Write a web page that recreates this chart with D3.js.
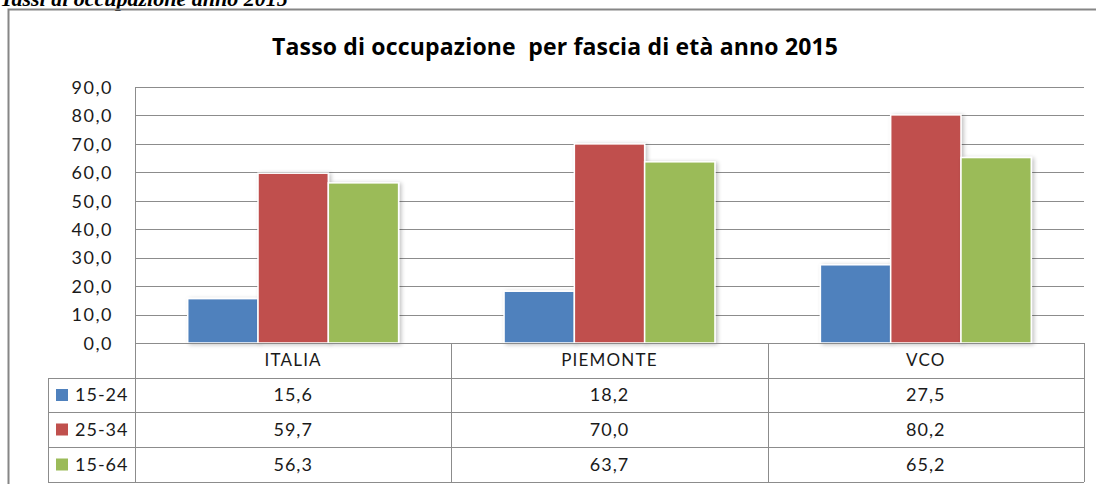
<!DOCTYPE html>
<html>
<head>
<meta charset="utf-8">
<script src="https://cdn.jsdelivr.net/npm/d3@7"></script>
<style>
  html, body { margin: 0; padding: 0; background: #fff; }
  svg { display: block; }
</style>
</head>
<body>
<svg id="chart" width="1096" height="484"></svg>
<script>
const categories = ["ITALIA", "PIEMONTE", "VCO"];
const seriesNames = ["15-24", "25-34", "15-64"];
const values1524 = [15.6, 18.2, 27.5];
const values2534 = [59.7, 70.0, 80.2];
const values1564 = [56.3, 63.7, 65.2];
const yTicks = [0, 10, 20, 30, 40, 50, 60, 70, 80, 90];
const colors = ["#4F81BD", "#C0504D", "#9BBB59"];

const series = [values1524, values2534, values1564].map((v, i) => ({name: seriesNames[i], values: v, color: colors[i]}));

const svg = d3.select("#chart");
const font = "Lato, 'Open Sans', sans-serif";
const textColor = "#1a1a1a";

// drop shadow filter
const defs = svg.append("defs");
const f = defs.append("filter").attr("id", "sh").attr("x", "-20%").attr("y", "-20%").attr("width", "140%").attr("height", "140%");
f.append("feGaussianBlur").attr("in", "SourceAlpha").attr("stdDeviation", 2).attr("result", "b");
f.append("feOffset").attr("in", "b").attr("dx", 2).attr("dy", 1).attr("result", "o");
f.append("feComponentTransfer").attr("in", "o").attr("result", "o2").append("feFuncA").attr("type", "linear").attr("slope", 0.25);
const fm = f.append("feMerge");
fm.append("feMergeNode").attr("in", "o2");
fm.append("feMergeNode").attr("in", "SourceGraphic");

// caption (partly cropped at top, as in the source)
svg.append("text").attr("x", 0).attr("y", 6)
  .attr("font-family", "'Liberation Serif', 'DejaVu Serif', serif")
  .attr("font-style", "italic").attr("font-weight", "bold").attr("font-size", 22)
  .attr("fill", "#000").text("Tassi di occupazione anno 2015");

// outer chart border
svg.append("rect").attr("x", 8.5).attr("y", 9.5).attr("width", 1100).attr("height", 500)
  .attr("fill", "none").attr("stroke", "#868686").attr("stroke-width", 2);

// title
svg.append("text").attr("x", 272).attr("y", 55)
  .attr("font-family", "'Open Sans', Lato, sans-serif").attr("font-weight", "bold").attr("font-size", 23)
  .attr("fill", "#000").attr("xml:space", "preserve")
  .attr("textLength", 566).attr("lengthAdjust", "spacing")
  .text("Tasso di occupazione  per fascia di età anno 2015");

const pLeft = 135, pRight = 1084, pTop = 87, pBottom = 343;
const x = d3.scaleBand().domain(categories).range([pLeft, pRight]);
const y = d3.scaleLinear().domain([0, 90]).range([pBottom, pTop]);
// gap width 150% -> outer padding total = 1.5 bar widths
const barW = x.bandwidth() / 4.5;
const xs = d3.scaleBand().domain(seriesNames).range([barW * 0.75, barW * 3.75]).paddingInner(0);

// gridlines
const yAxis = d3.axisLeft(y).tickValues(yTicks).tickSize(-(pRight - pLeft))
  .tickFormat(d => d3.format(".1f")(d).replace(".", ","));
const gAxis = svg.append("g").attr("transform", `translate(${pLeft},0)`).call(yAxis);
gAxis.select(".domain").remove();
gAxis.selectAll(".tick line").attr("stroke", "#8c8c8c").attr("stroke-width", 1)
  .attr("shape-rendering", "crispEdges");
gAxis.selectAll(".tick text").attr("x", -22).attr("dy", "0.35em")
  .attr("font-family", font).attr("font-size", 18).attr("letter-spacing", 1.5).attr("fill", textColor);

// vertical axis line
svg.append("line").attr("x1", pLeft + 0.5).attr("x2", pLeft + 0.5).attr("y1", pTop).attr("y2", pBottom)
  .attr("stroke", "#8c8c8c").attr("shape-rendering", "crispEdges");

// bars
const gBars = svg.append("g");
series.forEach(s => {
  gBars.selectAll(null).data(categories).enter().append("rect")
    .attr("x", c => x(c) + xs(s.name))
    .attr("y", (c, i) => y(s.values[i]))
    .attr("width", xs.bandwidth())
    .attr("height", (c, i) => pBottom - y(s.values[i]))
    .attr("fill", s.color).attr("stroke", "#fff").attr("stroke-width", 1.5)
    .attr("filter", "url(#sh)");
});

// data table
const rowY = [343, 378, 412, 447, 482];
const legendLeft = 48;
const lineColor = "#8c8c8c";
const gT = svg.append("g").attr("shape-rendering", "crispEdges");
rowY.forEach((yy, i) => {
  gT.append("line").attr("x1", i === 0 ? pLeft : legendLeft).attr("x2", pRight)
    .attr("y1", yy + 0.5).attr("y2", yy + 0.5).attr("stroke", lineColor);
});
gT.append("line").attr("x1", legendLeft + 0.5).attr("x2", legendLeft + 0.5).attr("y1", rowY[1]).attr("y2", rowY[4]).attr("stroke", lineColor);
categories.forEach(c => {
  gT.append("line").attr("x1", x(c) + 0.5).attr("x2", x(c) + 0.5).attr("y1", rowY[0]).attr("y2", rowY[4]).attr("stroke", lineColor);
});
gT.append("line").attr("x1", pRight + 0.5).attr("x2", pRight + 0.5).attr("y1", rowY[0]).attr("y2", rowY[4]).attr("stroke", lineColor);

// header
svg.selectAll(null).data(categories).enter().append("text")
  .attr("x", c => x(c) + x.bandwidth() / 2).attr("y", (rowY[0] + rowY[1]) / 2)
  .attr("dy", "0.35em").attr("text-anchor", "middle")
  .attr("font-family", font).attr("font-size", 17).attr("letter-spacing", 1.2).attr("fill", textColor).text(c => c);

// rows
series.forEach((s, r) => {
  const cy = (rowY[r + 1] + rowY[r + 2]) / 2;
  svg.append("rect").attr("x", 56).attr("y", cy - 6).attr("width", 12).attr("height", 12).attr("fill", s.color);
  svg.append("text").attr("x", 75).attr("y", cy).attr("dy", "0.35em")
    .attr("font-family", font).attr("font-size", 18).attr("letter-spacing", 1).attr("fill", textColor).text(s.name);
  svg.selectAll(null).data(categories).enter().append("text")
    .attr("x", c => x(c) + x.bandwidth() / 2).attr("y", cy).attr("dy", "0.35em")
    .attr("text-anchor", "middle").attr("font-family", font).attr("font-size", 18).attr("letter-spacing", 1).attr("fill", textColor)
    .text((c, i) => d3.format(".1f")(s.values[i]).replace(".", ","));
});
</script>
</body>
</html>
